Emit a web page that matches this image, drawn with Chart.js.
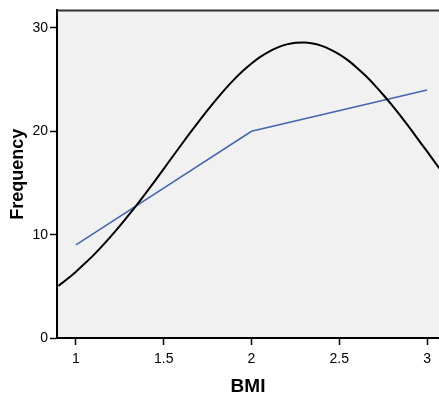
<!DOCTYPE html>
<html>
<head>
<meta charset="utf-8">
<script src="https://cdn.jsdelivr.net/npm/chart.js@4"></script>
<style>
  html, body { margin: 0; padding: 0; background: #fff; }
  #wrap { width: 439px; height: 395px; }
</style>
</head>
<body>
<div id="wrap"><canvas id="bmiChart" width="439" height="395"></canvas></div>
<script>
// values
const curveBmi = [0.9, 0.95, 1.0, 1.05, 1.1, 1.15, 1.2, 1.25, 1.3, 1.35, 1.4, 1.45,
                  1.5, 1.55, 1.6, 1.65, 1.7, 1.75, 1.8, 1.85, 1.9, 1.95, 2.0, 2.05,
                  2.1, 2.15, 2.2, 2.25, 2.3, 2.35, 2.4, 2.45, 2.5, 2.55, 2.6, 2.65,
                  2.7, 2.75, 2.8, 2.85, 2.9, 2.95, 3.0, 3.05, 3.1];
const curveFreq = [5.04, 5.70, 6.42, 7.20, 8.02, 8.92, 9.86, 10.85, 11.89, 12.96, 14.07, 15.21,
                   16.37, 17.54, 18.70, 19.85, 20.97, 22.06, 23.10, 24.09, 25.00, 25.83, 26.56, 27.20,
                   27.72, 28.12, 28.41, 28.57, 28.60, 28.49, 28.27, 27.91, 27.44, 26.86, 26.16, 25.37,
                   24.50, 23.54, 22.53, 21.46, 20.35, 19.20, 18.05, 16.88, 15.72];
const lineBmi = [1, 2, 3];
const lineFreq = [9, 20, 24];
const bmiTicks = [1, 1.5, 2, 2.5, 3];
const freqTicks = [0, 10, 20, 30];

// grey plot area + top edge of the frame
const framePlugin = {
    id: 'frame',
    beforeDraw(chart) {
        const { ctx, chartArea: a } = chart;
        ctx.save();
        ctx.fillStyle = '#f1f1f1';
        ctx.fillRect(a.left, a.top, a.right - a.left, a.bottom - a.top);
        ctx.restore();
    },
    afterDraw(chart) {
        const { ctx, chartArea: a } = chart;
        ctx.save();
        ctx.strokeStyle = '#333';
        ctx.lineWidth = 2;
        ctx.beginPath();
        ctx.moveTo(a.right, a.top);
        ctx.lineTo(a.left, a.top);
        ctx.stroke();
        ctx.restore();
    }
};

const ctx = document.getElementById('bmiChart');
new Chart(ctx, {
    type: 'line',
    data: {
        datasets: [{
            label: 'Normal',
            data: curveBmi.map((x, i) => ({ x: x, y: curveFreq[i] })),
            borderColor: '#000',
            borderWidth: 2,
            pointRadius: 0,
            cubicInterpolationMode: 'monotone',
            fill: false
        }, {
            label: 'BMI',
            data: lineBmi.map((x, i) => ({ x: x, y: lineFreq[i] })),
            borderColor: '#4565b0',
            borderWidth: 1.5,
            pointRadius: 0,
            tension: 0,
            fill: false
        }]
    },
    options: {
        responsive: false,
        animation: false,
        layout: { padding: { top: 10, right: 0, bottom: 0, left: 0 } },
        plugins: { legend: { display: false }, tooltip: { enabled: false } },
        scales: {
            x: {
                type: 'linear',
                min: 0.892,
                max: 3.068,
                afterBuildTicks: axis => { axis.ticks = bmiTicks.map(v => ({ value: v })); },
                ticks: {
                    color: '#000',
                    padding: 6,
                    maxRotation: 0,
                    font: { family: 'Liberation Sans, Arial', size: 14 },
                    callback: v => String(v)
                },
                grid: { drawOnChartArea: false, tickLength: 7, color: '#000', tickWidth: 1.5 },
                border: { color: '#000', width: 2 },
                title: {
                    display: true,
                    text: 'BMI',
                    color: '#000',
                    padding: { top: 0, bottom: -3 },
                    font: { family: 'Liberation Sans, Arial', size: 19, weight: 'bold' }
                },
                afterFit: axis => { axis.height = 57; }
            },
            y: {
                min: 0,
                max: 31.7,
                afterBuildTicks: axis => { axis.ticks = freqTicks.map(v => ({ value: v })); },
                ticks: {
                    color: '#000',
                    padding: 2,
                    font: { family: 'Liberation Sans, Arial', size: 14 }
                },
                grid: { drawOnChartArea: false, tickLength: 7, color: '#000', tickWidth: 1.5 },
                border: { color: '#000', width: 2 },
                title: {
                    display: true,
                    text: 'Frequency',
                    color: '#000',
                    padding: { top: 7, bottom: 0 },
                    font: { family: 'Liberation Sans, Arial', size: 18, weight: 'bold' }
                },
                afterFit: axis => { axis.width = 57; }
            }
        }
    },
    plugins: [framePlugin]
});
</script>
</body>
</html>
